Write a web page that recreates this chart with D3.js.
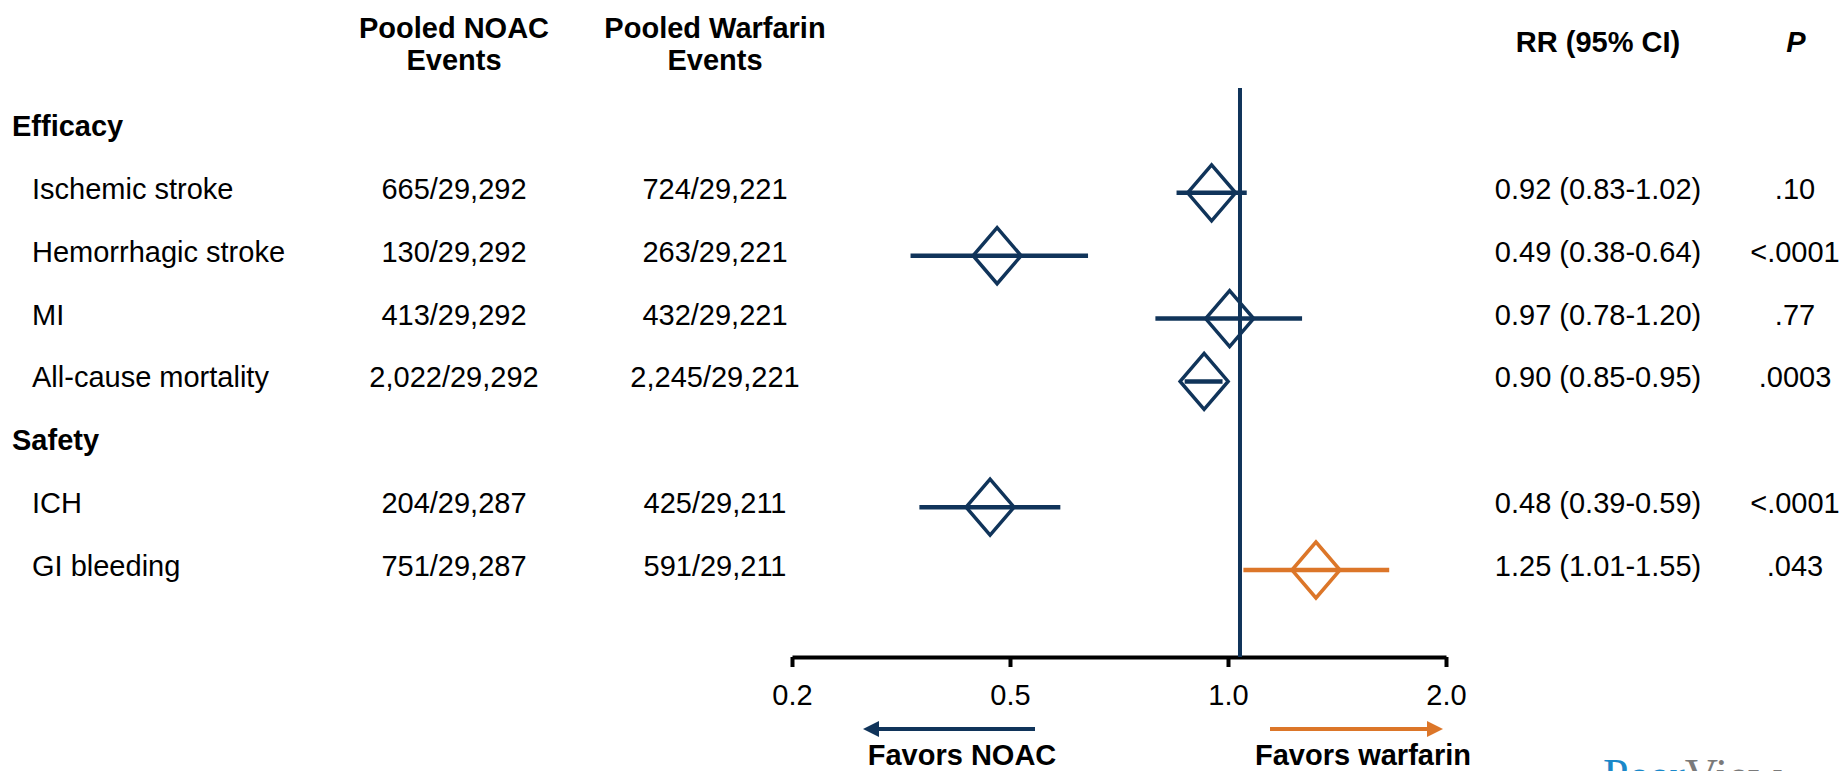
<!DOCTYPE html>
<html>
<head>
<meta charset="utf-8">
<script src="https://cdn.jsdelivr.net/npm/d3@7"></script>
<style>
    body { margin: 0; background: #fff; }
    svg { display: block; font-family: "Liberation Sans", Arial, sans-serif; }
</style>
</head>
<body>
<div id="graph"></div>
<script>
// Data
const groups = ["Efficacy", "Efficacy", "Efficacy", "Efficacy", "Safety", "Safety"];
const outcomes = ["Ischemic stroke", "Hemorrhagic stroke", "MI", "All-cause mortality", "ICH", "GI bleeding"];
const noacEvents = ["665/29,292", "130/29,292", "413/29,292", "2,022/29,292", "204/29,287", "751/29,287"];
const warfarinEvents = ["724/29,221", "263/29,221", "432/29,221", "2,245/29,221", "425/29,211", "591/29,211"];
const rr = [0.92, 0.49, 0.97, 0.90, 0.48, 1.25];
const ciLow = [0.83, 0.38, 0.78, 0.85, 0.39, 1.01];
const ciHigh = [1.02, 0.64, 1.20, 0.95, 0.59, 1.55];
const pValues = [".10", "<.0001", ".77", ".0003", "<.0001", ".043"];
const tickLabels = ["0.2", "0.5", "1.0", "2.0"];

const width = 1843;
const height = 771;
const navy = "#10345a";
const orange = "#dc7629";
const fontSize = 29;

// Build row list: group heading followed by its outcomes
let rows = [];
groups.forEach((g, i) => {
    if (i === 0 || groups[i - 1] !== g) rows.push({ key: "h-" + g, heading: g });
    rows.push({ key: "r-" + i, i: i });
});

let svg = d3.select("#graph")
    .append("svg")
    .attr("width", width)
    .attr("height", height);

// Scales
let yScale = d3.scalePoint()
    .domain(rows.map(r => r.key))
    .range([126, 566]);

let xData = d3.scaleLog()
    .domain([0.2, 2])
    .range([692, 1476]);

let xTicks = d3.scalePoint()
    .domain(tickLabels)
    .range([792, 1446]);

let colNoac = 454, colWarf = 715, colRR = 1598, colP = 1795;
let fmt = d3.format(".2f");

// Column headers
let header = svg.append("g")
    .attr("font-weight", "bold")
    .attr("font-size", fontSize)
    .attr("text-anchor", "middle");

[["Pooled NOAC", "Events", colNoac], ["Pooled Warfarin", "Events", colWarf]].forEach(h => {
    header.append("text").attr("x", h[2]).attr("y", 38).text(h[0]);
    header.append("text").attr("x", h[2]).attr("y", 70).text(h[1]);
});
header.append("text").attr("x", colRR).attr("y", 52).text("RR (95% CI)");
header.append("text").attr("x", colP + 1).attr("y", 52).attr("font-style", "italic").text("P");

// Row texts
let text = svg.append("g").attr("font-size", fontSize);

rows.forEach(r => {
    let y = yScale(r.key) + 10;
    if (r.heading) {
        text.append("text")
            .attr("x", 12).attr("y", y)
            .attr("font-weight", "bold")
            .text(r.heading);
        return;
    }
    let i = r.i;
    text.append("text").attr("x", 32).attr("y", y).text(outcomes[i]);
    text.append("text").attr("x", colNoac).attr("y", y).attr("text-anchor", "middle").text(noacEvents[i]);
    text.append("text").attr("x", colWarf).attr("y", y).attr("text-anchor", "middle").text(warfarinEvents[i]);
    text.append("text").attr("x", colRR).attr("y", y).attr("text-anchor", "middle")
        .text(fmt(rr[i]) + " (" + fmt(ciLow[i]) + "-" + fmt(ciHigh[i]) + ")");
    text.append("text").attr("x", colP).attr("y", y).attr("text-anchor", "middle").text(pValues[i]);
});

// Axis
let axisY = 657;
let axis = svg.append("g")
    .attr("transform", "translate(0," + axisY + ")")
    .call(d3.axisBottom(xTicks).tickSize(10).tickSizeOuter(0).tickPadding(17));
axis.select(".domain").attr("stroke", "#000").attr("stroke-width", 4);
axis.selectAll(".tick line").attr("stroke", "#000").attr("stroke-width", 4);
axis.selectAll(".tick text")
    .attr("font-size", fontSize)
    .attr("font-family", "\"Liberation Sans\", Arial, sans-serif")
    .attr("fill", "#000");

// Line of no effect
svg.append("line")
    .attr("x1", xData(1)).attr("x2", xData(1))
    .attr("y1", 88).attr("y2", axisY)
    .attr("stroke", navy)
    .attr("stroke-width", 4);

// CI lines and diamonds
let marks = svg.append("g");
let itemRows = rows.filter(r => !r.heading);

marks.selectAll(".ci")
    .data(itemRows)
    .join("line")
    .attr("class", "ci")
    .attr("x1", r => xData(ciLow[r.i]))
    .attr("x2", r => xData(ciHigh[r.i]))
    .attr("y1", r => yScale(r.key) + 4)
    .attr("y2", r => yScale(r.key) + 4)
    .attr("stroke", r => rr[r.i] < 1 ? navy : orange)
    .attr("stroke-width", 4.5);

let dw = 24, dh = 28;
marks.selectAll(".diamond")
    .data(itemRows)
    .join("path")
    .attr("class", "diamond")
    .attr("d", r => {
        let cx = xData(rr[r.i]), cy = yScale(r.key) + 4;
        return "M" + (cx - dw) + "," + cy + "L" + cx + "," + (cy - dh) +
            "L" + (cx + dw) + "," + cy + "L" + cx + "," + (cy + dh) + "Z";
    })
    .attr("fill", "none")
    .attr("stroke", r => rr[r.i] < 1 ? navy : orange)
    .attr("stroke-width", 3.5)
    .attr("stroke-linejoin", "miter");

// Favors arrows
let arrowY = 729;
function arrow(x1, x2, color) {
    let dir = x2 > x1 ? 1 : -1;
    svg.append("line")
        .attr("x1", x1).attr("x2", x2 - dir * 12)
        .attr("y1", arrowY).attr("y2", arrowY)
        .attr("stroke", color).attr("stroke-width", 4);
    svg.append("path")
        .attr("d", "M" + x2 + "," + arrowY + "L" + (x2 - dir * 16) + "," + (arrowY - 8) +
            "L" + (x2 - dir * 16) + "," + (arrowY + 8) + "Z")
        .attr("fill", color);
}
arrow(xTicks("0.5") + 25, xTicks("0.2") + 71, navy);
arrow(xTicks("1.0") + 42, xTicks("2.0") - 3, orange);

let favors = svg.append("g")
    .attr("font-weight", "bold")
    .attr("font-size", fontSize)
    .attr("text-anchor", "middle");
favors.append("text").attr("x", 962).attr("y", 765).text("Favors NOAC");
favors.append("text").attr("x", 1363).attr("y", 765).text("Favors warfarin");

// Logo peeking at the bottom edge
let logo = svg.append("text")
    .attr("x", 1603).attr("y", 791)
    .attr("font-family", "\"Liberation Serif\", \"DejaVu Serif\", serif")
    .attr("font-size", 46);
logo.append("tspan").attr("fill", "#1a88c9").text("Peer");
logo.append("tspan").attr("fill", "#7a7a7a").text("View");
</script>
</body>
</html>
